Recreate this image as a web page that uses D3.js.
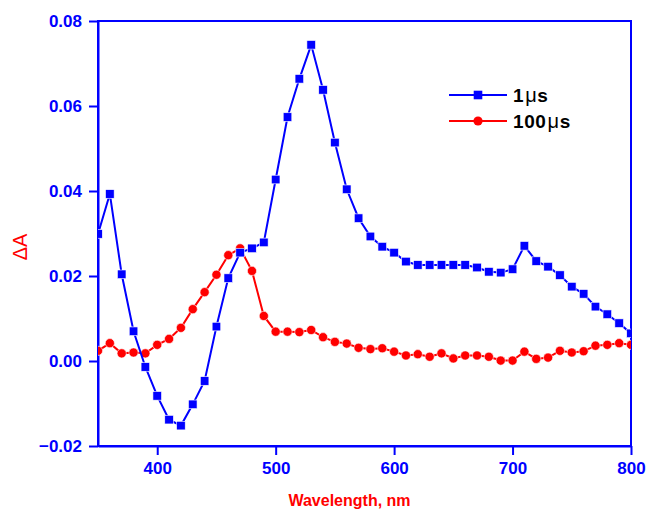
<!DOCTYPE html>
<html>
<head>
<meta charset="utf-8">
<script src="https://cdn.jsdelivr.net/npm/d3@7"></script>
<style>
  html, body { margin: 0; padding: 0; background: #fff; }
  svg { display: block; }
  text { font-family: "Liberation Sans", Arial, sans-serif; }
</style>
</head>
<body>
<svg id="chart" width="646" height="511"></svg>
<script>
// Transient absorption spectra: wavelength (nm) vs ΔA at two delays
const wavelengths = d3.range(350, 801, 10);

const series1us = [
  0.0299, 0.0393, 0.0204, 0.0070, -0.0014, -0.0082, -0.0138, -0.0152, -0.0102, -0.0047,
  0.0081, 0.0195, 0.0255, 0.0265, 0.0279, 0.0427, 0.0574, 0.0664, 0.0744, 0.0638,
  0.0514, 0.0404, 0.0336, 0.0293, 0.0269, 0.0255, 0.0234, 0.0226, 0.0226, 0.0226,
  0.0226, 0.0226, 0.0220, 0.0210, 0.0208, 0.0216, 0.0271, 0.0235, 0.0222, 0.0202,
  0.0175, 0.0158, 0.0128, 0.0110, 0.0089, 0.0065
];

const series100us = [
  0.0024, 0.0042, 0.0018, 0.0020, 0.0018, 0.0038, 0.0052, 0.0078, 0.0122, 0.0162,
  0.0203, 0.0249, 0.0265, 0.0212, 0.0106, 0.0069, 0.0069, 0.0068, 0.0073, 0.0056,
  0.0045, 0.0041, 0.0031, 0.0028, 0.0030, 0.0022, 0.0013, 0.0016, 0.0010, 0.0018,
  0.0006, 0.0013, 0.0013, 0.0010, 0.0001, 0.0001, 0.0022, 0.0005, 0.0008, 0.0024,
  0.0020, 0.0023, 0.0036, 0.0038, 0.0042, 0.0038
];

const xTicks = [400, 500, 600, 700, 800];
const yTicks = [-0.02, 0.00, 0.02, 0.04, 0.06, 0.08];
const seriesLabels = [["1", "\u03bc", "s"], ["100", "\u03bc", "s"]];

const BLUE = "#0000ff";
const RED = "#ff0000";

const svg = d3.select("#chart");
const plot = { left: 98, right: 631, top: 21, bottom: 446 };

const x = d3.scaleLinear().domain([350, 800]).range([plot.left, plot.right]);
const y = d3.scaleLinear().domain([-0.02, 0.08]).range([plot.bottom, plot.top]);

svg.append("defs").append("clipPath").attr("id", "plot-clip")
  .append("rect")
  .attr("x", plot.left).attr("y", plot.top)
  .attr("width", plot.right - plot.left)
  .attr("height", plot.bottom - plot.top);

// Frame
svg.append("rect")
  .attr("x", plot.left).attr("y", plot.top)
  .attr("width", plot.right - plot.left)
  .attr("height", plot.bottom - plot.top)
  .attr("fill", "none").attr("stroke", BLUE).attr("stroke-width", 2);

// Axes
const xAxis = svg.append("g")
  .attr("transform", `translate(0,${plot.bottom})`)
  .call(d3.axisBottom(x).tickValues(xTicks).tickFormat(d3.format("d"))
    .tickSize(9).tickPadding(7).tickSizeOuter(0));
const yAxis = svg.append("g")
  .attr("transform", `translate(${plot.left},0)`)
  .call(d3.axisLeft(y).tickValues(yTicks).tickFormat(d3.format(".2f"))
    .tickSize(9).tickPadding(7).tickSizeOuter(0));

[xAxis, yAxis].forEach(g => {
  g.select(".domain").attr("stroke", BLUE).attr("stroke-width", 2);
  g.selectAll(".tick line").attr("stroke", BLUE).attr("stroke-width", 2);
  g.selectAll(".tick text")
    .attr("fill", BLUE)
    .style("font-size", "17px")
    .style("font-weight", "bold")
    .style("font-family", '"Liberation Sans", Arial, sans-serif');
});

// Axis titles
svg.append("text")
  .attr("x", 349.5).attr("y", 506)
  .attr("text-anchor", "middle")
  .attr("fill", RED)
  .style("font-size", "16px").style("font-weight", "bold")
  .text("Wavelength, nm");

svg.append("text")
  .attr("transform", "translate(27,247) rotate(-90)")
  .attr("text-anchor", "middle")
  .attr("fill", RED)
  .style("font-size", "20px")
  .text("\u0394A");

// Data series
const data1 = wavelengths.map((w, i) => ({ w, v: series1us[i] }));
const data2 = wavelengths.map((w, i) => ({ w, v: series100us[i] }));

const line = d3.line().x(d => x(d.w)).y(d => y(d.v));
const plotG = svg.append("g").attr("clip-path", "url(#plot-clip)");

const sq = 8.6;
const rad = 4.6;

plotG.append("path").datum(data2)
  .attr("d", line).attr("fill", "none").attr("stroke", RED).attr("stroke-width", 2);
plotG.selectAll("circle.m2").data(data2).enter().append("circle")
  .attr("class", "m2")
  .attr("cx", d => x(d.w)).attr("cy", d => y(d.v)).attr("r", rad)
  .attr("fill", RED).attr("stroke", "#fff").attr("stroke-width", 0.6);

plotG.append("path").datum(data1)
  .attr("d", line).attr("fill", "none").attr("stroke", BLUE).attr("stroke-width", 2);
plotG.selectAll("rect.m1").data(data1).enter().append("rect")
  .attr("class", "m1")
  .attr("x", d => x(d.w) - sq / 2).attr("y", d => y(d.v) - sq / 2)
  .attr("width", sq).attr("height", sq)
  .attr("fill", BLUE).attr("stroke", "#fff").attr("stroke-width", 0.6);

// Legend
const legend = svg.append("g");
const legendRows = [
  { label: seriesLabels[0], color: BLUE, shape: "square", y: 95 },
  { label: seriesLabels[1], color: RED, shape: "circle", y: 121 }
];
legendRows.forEach(r => {
  legend.append("line")
    .attr("x1", 449).attr("x2", 507).attr("y1", r.y).attr("y2", r.y)
    .attr("stroke", r.color).attr("stroke-width", 2);
  if (r.shape === "square") {
    legend.append("rect")
      .attr("x", 478 - sq / 2).attr("y", r.y - sq / 2)
      .attr("width", sq).attr("height", sq).attr("fill", r.color);
  } else {
    legend.append("circle")
      .attr("cx", 478).attr("cy", r.y).attr("r", rad).attr("fill", r.color);
  }
  const t = legend.append("text")
    .attr("x", 513).attr("y", r.y + 7)
    .attr("fill", "#000")
    .style("font-size", "19px").style("font-weight", "bold")
    .style("letter-spacing", "0.6px");
  t.append("tspan").text(r.label[0]);
  t.append("tspan").style("font-weight", "normal").style("font-size", "20px")
    .attr("dx", 1).text(r.label[1]);
  t.append("tspan").text(r.label[2]);
});
</script>
</body>
</html>
